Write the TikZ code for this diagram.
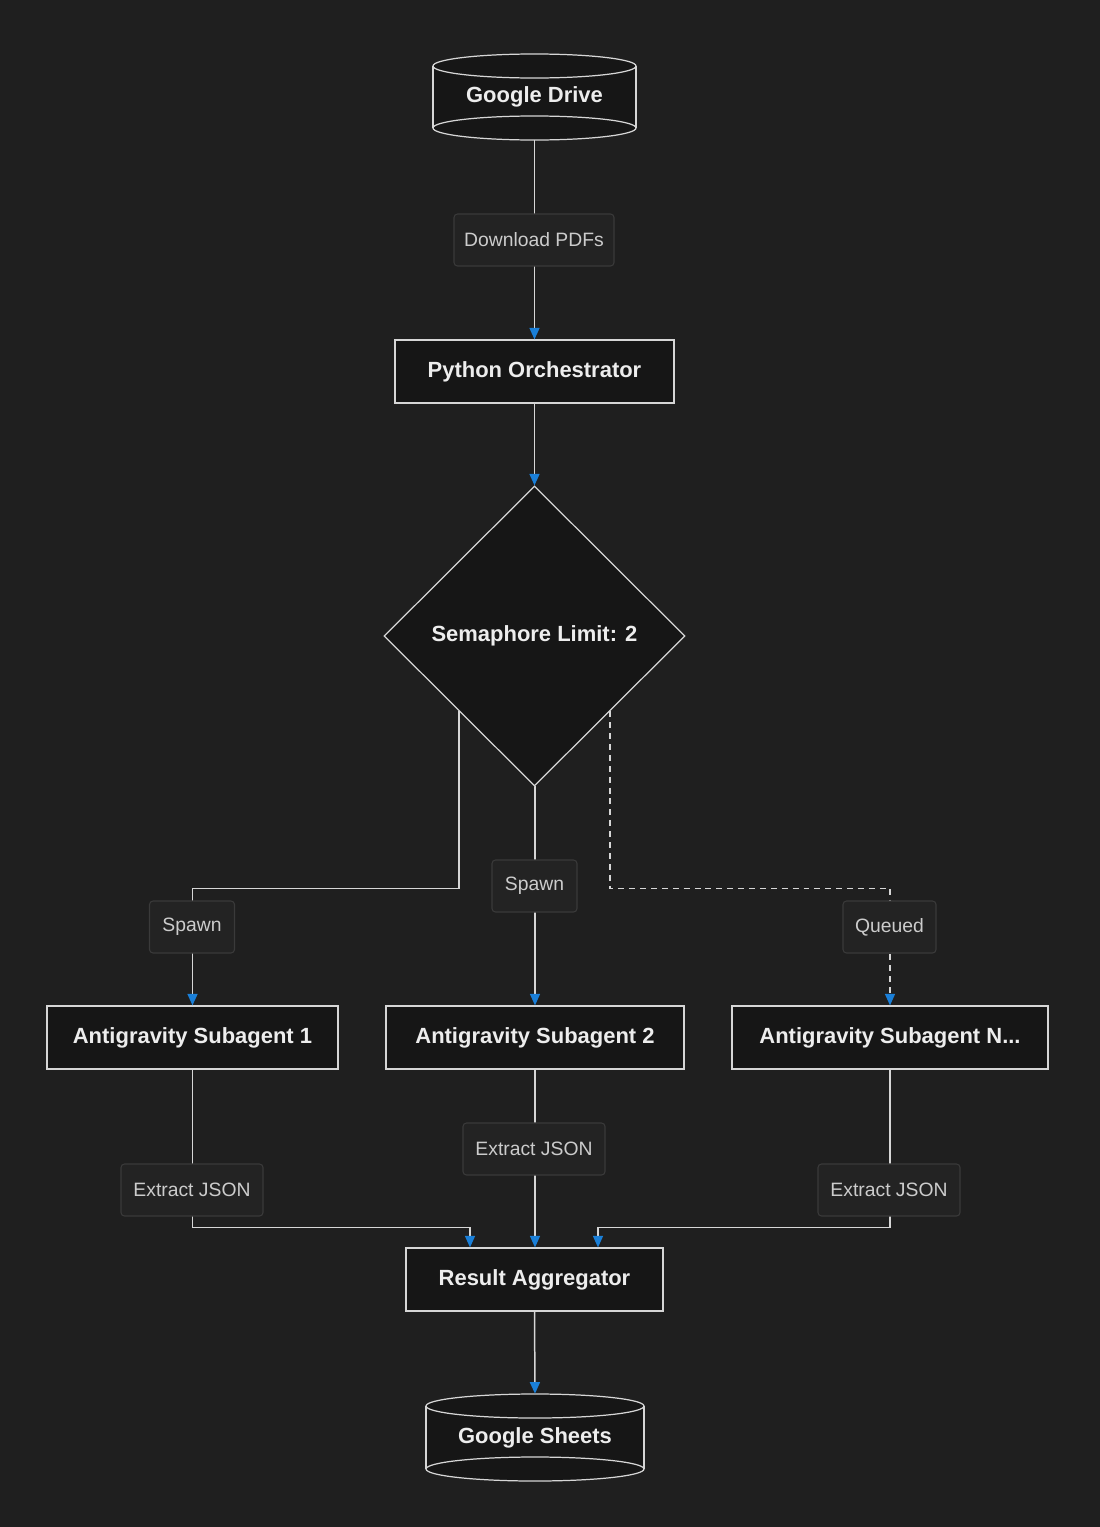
\documentclass[tikz,border=0pt]{standalone}
\usepackage{fontspec}
\setmainfont{Liberation Sans}
\usetikzlibrary{arrows.meta,positioning,calc,shapes.geometric}
\definecolor{canvasBg}{HTML}{1F1F1F}
\definecolor{nodeFill}{HTML}{161616}
\definecolor{nodeText}{HTML}{EDEDED}
\definecolor{lineGrey}{HTML}{D6D6D6}
\definecolor{labelFill}{HTML}{232323}
\definecolor{labelBorder}{HTML}{3A3A3A}
\definecolor{labelText}{HTML}{CCCCCC}
\definecolor{flowBlue}{HTML}{1A7FD8}
\tikzset{
  >={Triangle[length=2.3mm,width=2.0mm,color=flowBlue]},
  flow/.style={->, draw=lineGrey, line width=0.85pt},
  queued/.style={flow, dash pattern=on 3.4pt off 2.8pt},
  stepbox/.style={draw=lineGrey, line width=0.7pt, fill=nodeFill, text=nodeText,
                  font=\fontsize{12.5}{15}\selectfont\bfseries,
                  minimum height=1.26cm, inner sep=0pt, align=center},
  decision/.style={diamond, draw=lineGrey, line width=0.7pt, fill=nodeFill, text=nodeText,
                   font=\fontsize{12.5}{15}\selectfont\bfseries,
                   minimum width=6.02cm, minimum height=6.0cm, inner sep=0pt},
  storeText/.style={text=nodeText, font=\fontsize{12.5}{15}\selectfont\bfseries,
                    inner sep=0pt, minimum width=4.06cm},
  storeLine/.style={draw=lineGrey, line width=0.7pt},
  edgeLabel/.style={draw=labelBorder, line width=0.6pt, fill=labelFill, rounded corners=2pt,
                    text=labelText, font=\fontsize{11}{13}\selectfont,
                    minimum height=1.04cm, inner xsep=0pt, inner ysep=0pt}
}

\begin{document}
\begin{tikzpicture}

% background
\fill[canvasBg] (0,0) rectangle (22,-30.54);

% ------------------------------------------------------------
% TOP: source store
% ------------------------------------------------------------
\fill[nodeFill] (8.66,-1.32) -- (8.66,-2.56)
  arc[start angle=180,end angle=360,x radius=2.03cm,y radius=0.24cm] -- (12.72,-1.32)
  arc[start angle=0,end angle=180,x radius=2.03cm,y radius=0.24cm] -- cycle;
\draw[storeLine] (10.69,-1.32) ellipse[x radius=2.03cm,y radius=0.24cm];
\draw[storeLine] (10.69,-2.56) ellipse[x radius=2.03cm,y radius=0.24cm];
\draw[storeLine] (8.66,-1.32) -- (8.66,-2.56);
\draw[storeLine] (12.72,-1.32) -- (12.72,-2.56);
\node[storeText, minimum height=1.72cm] (drive) at (10.69,-1.94) {Google Drive};

\node[stepbox, minimum width=5.58cm] (orch) at (10.69,-7.43) {Python Orchestrator};
\node[decision] (semaphore) at (10.69,-12.72) {Semaphore Limit: 2};

\draw[flow] (drive.south) -- (orch.north);
\draw[flow] (orch.south) -- (semaphore.north);
\node[edgeLabel, minimum width=3.2cm] (dl) at (10.68,-4.80) {Download PDFs};

% ------------------------------------------------------------
% MIDDLE: subagents
% ------------------------------------------------------------
\node[stepbox, minimum width=5.82cm] (sub1) at (3.85,-20.75) {Antigravity Subagent 1};
\node[stepbox, minimum width=5.96cm] (sub2) at (10.70,-20.75) {Antigravity Subagent 2};
\node[stepbox, minimum width=6.32cm] (subN) at (17.80,-20.75) {Antigravity Subagent N...};

\draw[flow] (semaphore.south west) -- ++(0,-3.54) -| (sub1.north);
\draw[flow] (semaphore.south) -- (semaphore.south -| sub2.north) -- (sub2.north);
\draw[queued] (semaphore.south east) -- ++(0,-3.54) -| (subN.north);

\node[edgeLabel, minimum width=1.7cm] (spawn1) at (3.84,-18.54) {Spawn};
\node[edgeLabel, minimum width=1.7cm] (spawn2) at (10.69,-17.72) {Spawn};
\node[edgeLabel, minimum width=1.86cm] (queue) at (17.79,-18.54) {Queued};

% ------------------------------------------------------------
% BOTTOM: aggregation
% ------------------------------------------------------------
\node[stepbox, minimum width=5.14cm] (agg) at (10.69,-25.59) {Result Aggregator};

\draw[flow] (sub1.south) -- ++(0,-3.16) -| ([xshift=-1.29cm]agg.north);
\draw[flow] (sub2.south) -- (sub2.south |- agg.north);
\draw[flow] (subN.south) -- ++(0,-3.16) -| ([xshift=1.27cm]agg.north);

\node[edgeLabel, minimum width=2.84cm] (json1) at (3.84,-23.80) {Extract JSON};
\node[edgeLabel, minimum width=2.84cm] (json2) at (10.68,-22.98) {Extract JSON};
\node[edgeLabel, minimum width=2.84cm] (jsonN) at (17.78,-23.80) {Extract JSON};

% sink store
\fill[nodeFill] (8.52,-28.12) -- (8.52,-29.38)
  arc[start angle=180,end angle=360,x radius=2.18cm,y radius=0.24cm] -- (12.88,-28.12)
  arc[start angle=0,end angle=180,x radius=2.18cm,y radius=0.24cm] -- cycle;
\draw[storeLine] (10.70,-28.12) ellipse[x radius=2.18cm,y radius=0.24cm];
\draw[storeLine] (10.70,-29.38) ellipse[x radius=2.18cm,y radius=0.24cm];
\draw[storeLine] (8.52,-28.12) -- (8.52,-29.38);
\draw[storeLine] (12.88,-28.12) -- (12.88,-29.38);
\node[storeText, minimum width=4.36cm, minimum height=1.74cm] (sheets) at (10.70,-28.75) {Google Sheets};

\draw[flow] (agg.south) -- (sheets.north);

\end{tikzpicture}
\end{document}
